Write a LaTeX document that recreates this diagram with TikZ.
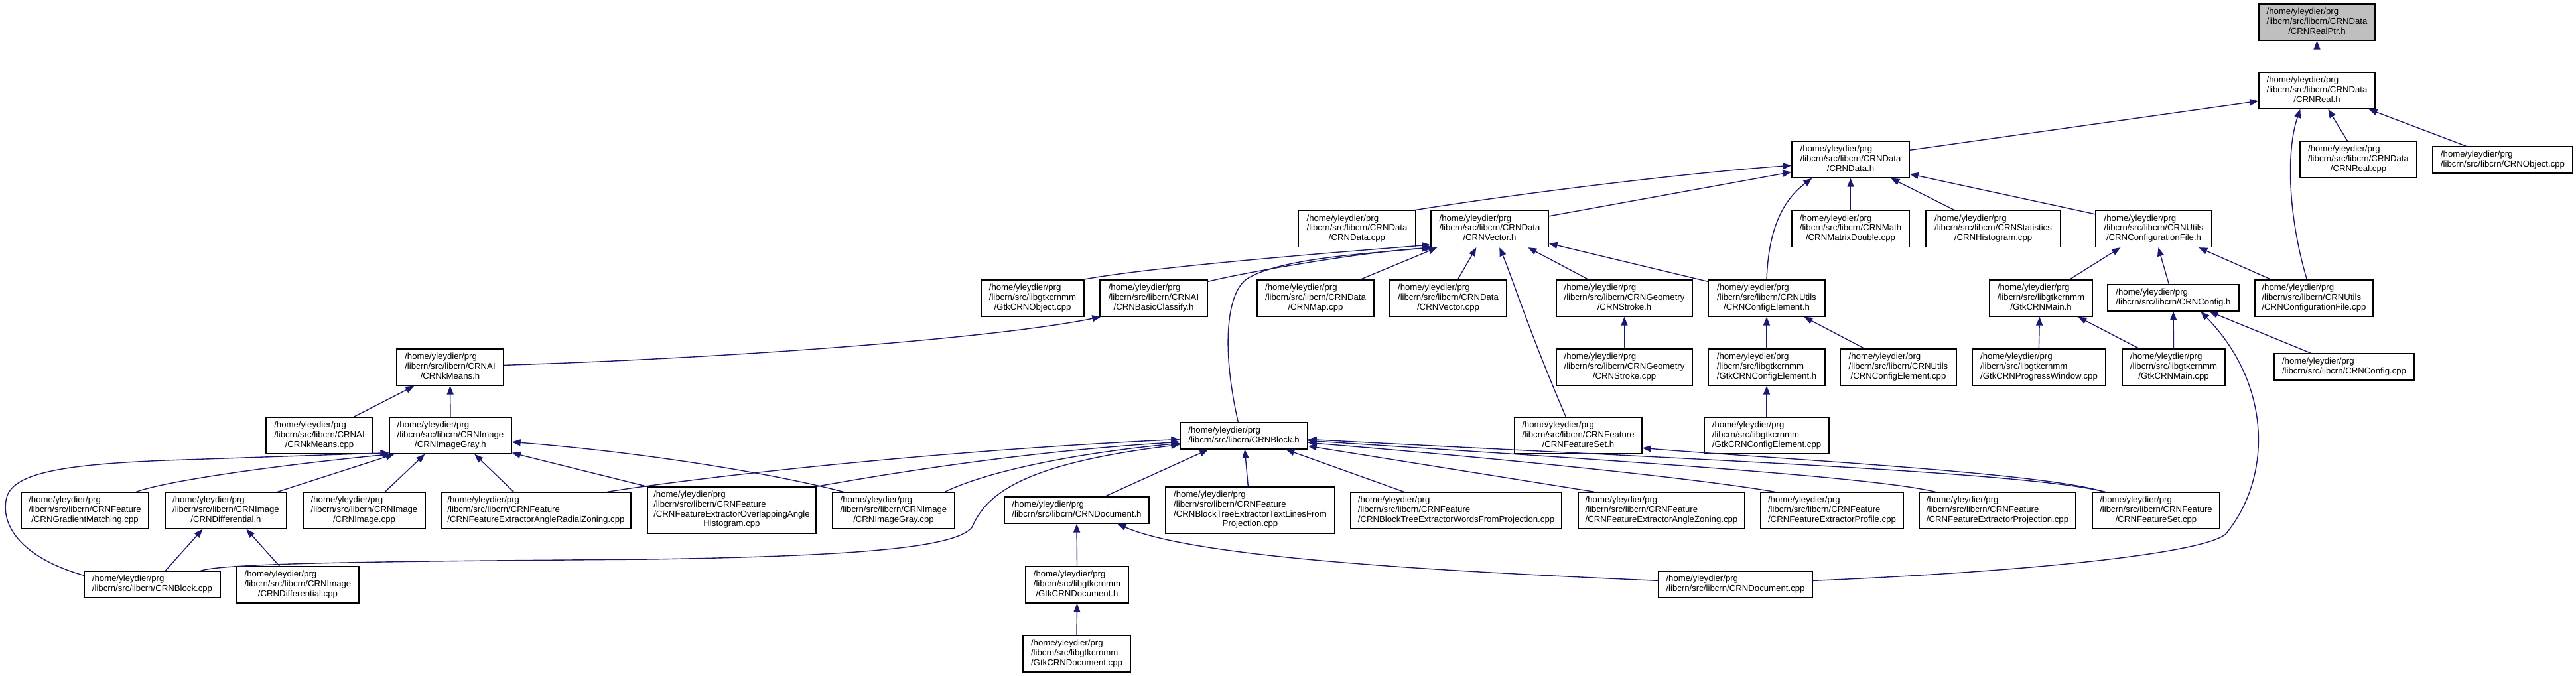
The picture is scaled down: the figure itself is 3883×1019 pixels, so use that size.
\documentclass[tikz,border=0pt]{standalone}
\usepackage{fontspec}
\setmainfont{Liberation Sans}
\usetikzlibrary{arrows.meta}
\definecolor{edgeblue}{RGB}{25,25,112}
\definecolor{rootgray}{RGB}{191,191,191}
\newcommand{\Hm}{/home/yleydier/prg}
\newcommand{\Lcrn}{/libcrn/src/libcrn}
\newcommand{\Lgtk}{/libcrn/src/libgtkcrnmm}
\newcommand{\nd}[2]{\begin{tabular}{@{}l@{}}\Hm\\#1\\\multicolumn{1}{@{}c@{}}{#2}\end{tabular}}
\newcommand{\twol}[1]{\begin{tabular}{@{}l@{}}\Hm\\#1\end{tabular}}
\newcommand{\fourl}[3]{\begin{tabular}{@{}l@{}}\Hm\\#1\\#2\\\multicolumn{1}{@{}c@{}}{#3}\end{tabular}}
\tikzset{
  fbox/.style={draw=black, line width=1.3pt, fill=white, inner sep=2pt,
    font=\fontsize{13.2}{14.7}\selectfont, minimum height=55pt},
  ftwo/.style={fbox, minimum height=40pt},
  ffour/.style={fbox, minimum height=70pt},
  inc/.style={draw=edgeblue, line width=1.4pt, -{Triangle[length=13pt,width=10pt]}},
}
\begin{document}
\begin{tikzpicture}[x=1pt,y=-1pt]
\useasboundingbox (0,0) rectangle (3883,1019);
% row 1-3
\node[fbox, fill=rootgray, minimum width=175] (realptr) at (3492.5,33.5) {\nd{\Lcrn/CRNData}{/CRNRealPtr.h}};
\node[fbox, minimum width=175] (real) at (3492.5,136.5) {\nd{\Lcrn/CRNData}{/CRNReal.h}};
\node[fbox, minimum width=177] (data) at (2789.5,240.5) {\nd{\Lcrn/CRNData}{/CRNData.h}};
\node[fbox, minimum width=176] (realcpp) at (3555,240.5) {\nd{\Lcrn/CRNData}{/CRNReal.cpp}};
\node[ftwo, minimum width=211] (objectcpp) at (3772.5,241) {\twol{\Lcrn/CRNObject.cpp}};
% row 4
\node[fbox, minimum width=177] (datacpp) at (2045.5,345) {\nd{\Lcrn/CRNData}{/CRNData.cpp}};
\node[fbox, minimum width=177] (vector) at (2245.5,345) {\nd{\Lcrn/CRNData}{/CRNVector.h}};
\node[fbox, minimum width=177] (matrixdouble) at (2789.5,345) {\nd{\Lcrn/CRNMath}{/CRNMatrixDouble.cpp}};
\node[fbox, minimum width=203] (histogram) at (3004.5,345) {\nd{\Lcrn/CRNStatistics}{/CRNHistogram.cpp}};
\node[fbox, minimum width=175] (configfileh) at (3246.5,345) {\nd{\Lcrn/CRNUtils}{/CRNConfigurationFile.h}};
% row 5
\node[fbox, minimum width=155] (gtkobject) at (1556.5,449.5) {\nd{\Lgtk}{/GtkCRNObject.cpp}};
\node[fbox, minimum width=162] (basicclassify) at (1739,449.5) {\nd{\Lcrn/CRNAI}{/CRNBasicClassify.h}};
\node[fbox, minimum width=176] (map) at (1983,449.5) {\nd{\Lcrn/CRNData}{/CRNMap.cpp}};
\node[fbox, minimum width=176] (vectorcpp) at (2183,449.5) {\nd{\Lcrn/CRNData}{/CRNVector.cpp}};
\node[fbox, minimum width=205] (stroke) at (2448.5,449.5) {\nd{\Lcrn/CRNGeometry}{/CRNStroke.h}};
\node[fbox, minimum width=176] (configelem) at (2663,449.5) {\nd{\Lcrn/CRNUtils}{/CRNConfigElement.h}};
\node[fbox, minimum width=155] (gtkmainh) at (3076.5,449.5) {\nd{\Lgtk}{/GtkCRNMain.h}};
\node[ftwo, minimum width=198] (config) at (3276,449) {\twol{\Lcrn/CRNConfig.h}};
\node[fbox, minimum width=178] (configfilecpp) at (3488,449.5) {\nd{\Lcrn/CRNUtils}{/CRNConfigurationFile.cpp}};
% row 6
\node[fbox, minimum width=161] (kmeansh) at (678.5,553.5) {\nd{\Lcrn/CRNAI}{/CRNkMeans.h}};
\node[fbox, minimum width=205] (strokecpp) at (2448.5,553.5) {\nd{\Lcrn/CRNGeometry}{/CRNStroke.cpp}};
\node[fbox, minimum width=176] (gtkconfigelemh) at (2663,553.5) {\nd{\Lgtk}{/GtkCRNConfigElement.h}};
\node[fbox, minimum width=175] (configelemcpp) at (2861.5,553.5) {\nd{\Lcrn/CRNUtils}{/CRNConfigElement.cpp}};
\node[fbox, minimum width=201] (gtkprogress) at (3073.5,553.5) {\nd{\Lgtk}{/GtkCRNProgressWindow.cpp}};
\node[fbox, minimum width=155] (gtkmaincpp) at (3276.5,553.5) {\nd{\Lgtk}{/GtkCRNMain.cpp}};
\node[ftwo, minimum width=211] (configcpp) at (3533.5,553) {\twol{\Lcrn/CRNConfig.cpp}};
% row 7
\node[fbox, minimum width=161] (kmeanscpp) at (481.5,656.5) {\nd{\Lcrn/CRNAI}{/CRNkMeans.cpp}};
\node[fbox, minimum width=184] (imagegrayh) at (679,656.5) {\nd{\Lcrn/CRNImage}{/CRNImageGray.h}};
\node[ftwo, minimum width=192] (block) at (1875,657) {\twol{\Lcrn/CRNBlock.h}};
\node[fbox, minimum width=192] (featureseth) at (2379,656.5) {\nd{\Lcrn/CRNFeature}{/CRNFeatureSet.h}};
\node[fbox, minimum width=188] (gtkconfigelemcpp) at (2663,656.5) {\nd{\Lgtk}{/GtkCRNConfigElement.cpp}};
% row 8
\node[fbox, minimum width=192] (gradient) at (128,769.5) {\nd{\Lcrn/CRNFeature}{/CRNGradientMatching.cpp}};
\node[fbox, minimum width=183] (differentialh) at (340.5,769.5) {\nd{\Lcrn/CRNImage}{/CRNDifferential.h}};
\node[fbox, minimum width=184] (imagecpp) at (549,769.5) {\nd{\Lcrn/CRNImage}{/CRNImage.cpp}};
\node[fbox, minimum width=286] (angleradial) at (808,769.5) {\nd{\Lcrn/CRNFeature}{/CRNFeatureExtractorAngleRadialZoning.cpp}};
\node[ffour, minimum width=254] (overlapping) at (1103,769) {\fourl{\Lcrn/CRNFeature}{/CRNFeatureExtractorOverlappingAngle}{Histogram.cpp}};
\node[fbox, minimum width=184] (imagegraycpp) at (1347,769.5) {\nd{\Lcrn/CRNImage}{/CRNImageGray.cpp}};
\node[ftwo, minimum width=218] (documenth) at (1623,769) {\twol{\Lcrn/CRNDocument.h}};
\node[ffour, minimum width=255] (textlines) at (1884.5,769) {\fourl{\Lcrn/CRNFeature}{/CRNBlockTreeExtractorTextLinesFrom}{Projection.cpp}};
\node[fbox, minimum width=318] (wordsfrom) at (2195,769.5) {\nd{\Lcrn/CRNFeature}{/CRNBlockTreeExtractorWordsFromProjection.cpp}};
\node[fbox, minimum width=251] (anglezoning) at (2504.5,769.5) {\nd{\Lcrn/CRNFeature}{/CRNFeatureExtractorAngleZoning.cpp}};
\node[fbox, minimum width=215] (profile) at (2761.5,769.5) {\nd{\Lcrn/CRNFeature}{/CRNFeatureExtractorProfile.cpp}};
\node[fbox, minimum width=236] (projection) at (3011,769.5) {\nd{\Lcrn/CRNFeature}{/CRNFeatureExtractorProjection.cpp}};
\node[fbox, minimum width=192] (featuresetcpp) at (3250,769.5) {\nd{\Lcrn/CRNFeature}{/CRNFeatureSet.cpp}};
% row 9-10
\node[ftwo, minimum width=205] (blockcpp) at (229.5,881) {\twol{\Lcrn/CRNBlock.cpp}};
\node[fbox, minimum width=184] (differentialcpp) at (449,881.5) {\nd{\Lcrn/CRNImage}{/CRNDifferential.cpp}};
\node[fbox, minimum width=155] (gtkdocumenth) at (1623.5,881.5) {\nd{\Lgtk}{/GtkCRNDocument.h}};
\node[ftwo, minimum width=232] (documentcpp) at (2616,881) {\twol{\Lcrn/CRNDocument.cpp}};
\node[fbox, minimum width=162] (gtkdocumentcpp) at (1623,985.5) {\nd{\Lgtk}{/GtkCRNDocument.cpp}};

% edges
\draw[inc] (real.north) -- (realptr.south);
\draw[inc] ([yshift=-14pt]data.north east) -- ([yshift=-44pt]real.north west);
\draw[inc] ([xshift=72pt]realcpp.north west) -- ([xshift=105pt]real.south west);
\draw[inc] ([xshift=51pt]objectcpp.north west) -- ([xshift=166pt]real.south west);
\draw[inc] ([xshift=79pt]configfilecpp.north west) .. controls (3450,330) and (3445,230) .. ([xshift=63pt]real.south west);
\draw[inc] ([xshift=175pt]datacpp.north west) .. controls (2300,290) and (2550,260) .. ([yshift=-37pt]data.north west);
\draw[inc] ([yshift=-9pt]vector.north east) -- ([yshift=-47pt]data.north west);
\draw[inc] (configelem.north) .. controls (2666,340) and (2690,300) .. ([xshift=31pt]data.south west);
\draw[inc] (matrixdouble.north) -- (data.south);
\draw[inc] ([xshift=44pt]histogram.north west) -- ([xshift=150pt]data.south west);
\draw[inc] ([yshift=-6pt]configfileh.north west) -- ([yshift=-50pt]data.north east);

\draw[inc] ([xshift=-2pt]gtkobject.north east) .. controls (1720,405) and (1950,385) .. ([yshift=4pt]vector.south west);
\draw[inc] ([yshift=-3pt]basicclassify.north east) .. controls (1880,410) and (2050,380) .. ([xshift=4pt]vector.south west);
\draw[inc] ([xshift=88pt]block.north west) .. controls (1840,520) and (1850,440) .. (1880,420) .. controls (1930,390) and (2050,383) .. (vector.south west);
\draw[inc] ([xshift=156pt]map.north west) -- ([xshift=10pt]vector.south west);
\draw[inc] ([xshift=103pt]vectorcpp.north west) -- ([xshift=69pt]vector.south west);
\draw[inc] ([xshift=78pt]featureseth.north west) .. controls (2305,500) and (2280,420) .. ([xshift=104pt]vector.south west);
\draw[inc] ([xshift=49pt]stroke.north west) -- ([xshift=147pt]vector.south west);
\draw[inc] ([yshift=-3pt]configelem.north west) -- ([yshift=-50pt]vector.north east);

\draw[inc] ([yshift=-25pt]kmeansh.north east) .. controls (1100,540) and (1500,510) .. ([xshift=2pt]basicclassify.south west);

\draw[inc] ([xshift=121pt]gtkmainh.north west) -- ([xshift=38pt]configfileh.south west);
\draw[inc] ([xshift=93pt]config.north west) -- ([xshift=95pt]configfileh.south west);
\draw[inc] ([xshift=25pt]configfilecpp.north west) -- ([xshift=156pt]configfileh.south west);
\draw[inc] (strokecpp.north) -- (stroke.south);
\draw[inc] (gtkconfigelemh.north) -- (configelem.south);
\draw[inc] ([xshift=37pt]configelemcpp.north west) -- ([xshift=145pt]configelem.south west);
\draw[inc] ([xshift=101pt]gtkprogress.north west) -- ([xshift=76pt]gtkmainh.south west);
\draw[inc] ([xshift=26pt]gtkmaincpp.north west) -- ([xshift=134pt]gtkmainh.south west);
\draw[inc] (gtkmaincpp.north) -- (config.south);
\draw[inc] ([xshift=56pt]configcpp.north west) -- ([xshift=154pt]config.south west);
\draw[inc] ([yshift=-15pt]documentcpp.north east) .. controls (3050,862) and (3320,835) .. (3355,805) .. controls (3425,720) and (3425,580) .. ([xshift=141pt]config.south west);
\draw[inc] (gtkconfigelemcpp.north) -- (gtkconfigelemh.south);

\draw[inc] ([xshift=133pt]kmeanscpp.north west) -- ([xshift=27pt]kmeansh.south west);
\draw[inc] (imagegrayh.north) -- (kmeansh.south);
\draw[inc] ([xshift=174pt]gradient.north west) .. controls (260,722) and (450,698) .. ([xshift=3pt]imagegrayh.south west);
\draw[inc] ([xshift=170pt]differentialh.north west) -- ([xshift=8pt]imagegrayh.south west);
\draw[inc] ([xshift=124pt]imagecpp.north west) -- ([xshift=54pt]imagegrayh.south west);
\draw[inc] ([xshift=110pt]angleradial.north west) -- ([xshift=129pt]imagegrayh.south west);
\draw[inc] (overlapping.north west) -- ([yshift=2pt]imagegrayh.south east);
\draw[inc] ([xshift=17pt]imagegraycpp.north west) .. controls (1150,710) and (950,680) .. ([yshift=-38pt]imagegrayh.north east);
\draw[inc] ([yshift=-7pt]blockcpp.north west) .. controls (30,840) and (0,790) .. (10,750) .. controls (20,712) and (100,700) .. (250,694) -- ([yshift=2pt]imagegrayh.south west);
\draw[inc] ([xshift=65pt]differentialcpp.north west) -- ([xshift=123pt]differentialh.south west);
\draw[inc] ([xshift=123pt]blockcpp.north west) -- ([xshift=57pt]differentialh.south west);

\draw[inc] ([xshift=251pt]angleradial.north west) .. controls (1050,720) and (1400,680) .. ([yshift=-26pt]block.north west);
\draw[inc] (overlapping.north east) .. controls (1350,712) and (1550,680) .. ([yshift=-30pt]block.north west);
\draw[inc] ([xshift=170pt]imagegraycpp.north west) .. controls (1500,705) and (1650,680) .. ([yshift=-32pt]block.north west);
\draw[inc] ([xshift=176pt]blockcpp.north west) .. controls (340,848) and (600,846) .. (980,843) .. controls (1300,838) and (1440,825) .. (1465,795) .. controls (1485,750) and (1530,700) .. ([yshift=-34pt]block.north west);
\draw[inc] ([xshift=152pt]documenth.north west) -- ([xshift=43pt]block.south west);
\draw[inc] ([xshift=125pt]textlines.north west) -- ([xshift=98pt]block.south west);
\draw[inc] ([xshift=81pt]wordsfrom.north west) -- ([xshift=160pt]block.south west);
\draw[inc] ([xshift=25pt]anglezoning.north west) -- ([yshift=-36pt]block.north east);
\draw[inc] ([xshift=22pt]profile.north west) .. controls (2550,720) and (2250,690) .. ([yshift=-31pt]block.north east);
\draw[inc] ([xshift=25pt]projection.north west) .. controls (2820,718) and (2400,692) .. ([yshift=-28pt]block.north east);
\draw[inc] ([xshift=20pt]featuresetcpp.north west) .. controls (3050,712) and (2600,695) .. ([yshift=-26pt]block.north east);
\draw[inc] ([xshift=18pt]featuresetcpp.north west) .. controls (3080,712) and (2650,690) .. ([yshift=-47pt]featureseth.north east);

\draw[inc] ([yshift=-15pt]documentcpp.north west) .. controls (2150,860) and (1800,840) .. ([xshift=171pt]documenth.south west);
\draw[inc] (gtkdocumenth.north) -- (documenth.south);
\draw[inc] (gtkdocumentcpp.north) -- (gtkdocumenth.south);
\end{tikzpicture}
\end{document}
